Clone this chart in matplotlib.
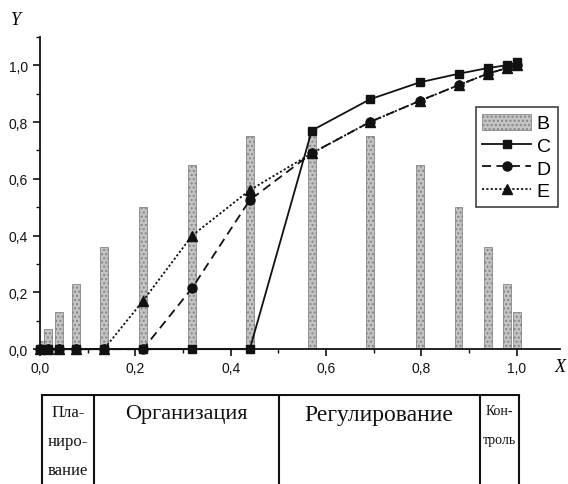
import matplotlib
matplotlib.use("Agg")
import matplotlib.pyplot as plt
from matplotlib.ticker import MultipleLocator, FuncFormatter

# ---- data ----
x_pts = [0.0, 0.017, 0.04, 0.075, 0.134, 0.216, 0.319, 0.44, 0.57, 0.692, 0.797, 0.878, 0.939, 0.979, 1.0]
B_vals = [0.03, 0.07, 0.13, 0.23, 0.36, 0.50, 0.65, 0.75, 0.78, 0.75, 0.65, 0.50, 0.36, 0.23, 0.13]
C_vals = [0, 0, 0, 0, 0, 0, 0, 0, 0.77, 0.88, 0.94, 0.97, 0.99, 1.0, 1.01]
D_vals = [0, 0, 0, 0, 0, 0, 0.215, 0.525, 0.69, 0.80, 0.875, 0.93, 0.97, 0.99, 1.0]
E_vals = [0, 0, 0, 0, 0, 0.17, 0.40, 0.56, 0.69, 0.80, 0.875, 0.93, 0.97, 0.99, 1.0]

stage_names = ["Пла-\nниро-\nвание", "Организация", "Регулирование", "Кон-\nтроль"]
stage_bounds = [0.004, 0.113, 0.501, 0.922, 1.004]

fig = plt.figure(figsize=(5.68, 4.85), dpi=100)
ax = fig.add_axes([0.0704, 0.278, 0.915, 0.644])

hb = ax.bar(x_pts, B_vals, width=0.016, facecolor="#c4c4c4", edgecolor="#858585",
            linewidth=0.6, hatch="....", label="B", zorder=2)
hc, = ax.plot(x_pts, C_vals, "-", color="#111111", lw=1.3, marker="s", ms=6, label="C",
              zorder=5, clip_on=False)
hd, = ax.plot(x_pts, D_vals, color="#111111", lw=1.3, ls=(0, (5, 3)), marker="o", ms=6.5,
              label="D", zorder=4, clip_on=False)
he, = ax.plot(x_pts, E_vals, color="#111111", lw=1.3, ls=(0, (1.2, 1.2)), marker="^", ms=7,
              label="E", zorder=3, clip_on=False)

ax.set_xlim(0, 1.09)
ax.set_ylim(0, 1.1)
for s in ["top", "right"]:
    ax.spines[s].set_visible(False)
for s in ["left", "bottom"]:
    ax.spines[s].set_linewidth(1.3)
    ax.spines[s].set_color("#111111")

ax.xaxis.set_major_locator(MultipleLocator(0.2))
ax.xaxis.set_minor_locator(MultipleLocator(0.1))
ax.yaxis.set_major_locator(MultipleLocator(0.2))
ax.yaxis.set_minor_locator(MultipleLocator(0.1))
fmt = FuncFormatter(lambda v, p: ("%.1f" % v).replace(".", ",") if v <= 1.0001 else "")
ax.xaxis.set_major_formatter(fmt)
ax.yaxis.set_major_formatter(fmt)
ax.tick_params(which="major", direction="out", length=5, width=1.2, labelsize=10, colors="#111111")
ax.tick_params(which="minor", direction="out", length=3, width=1.0, colors="#111111")
for lab in ax.get_xticklabels() + ax.get_yticklabels():
    lab.set_family("Liberation Sans")

ax.text(-0.05, 1.16, "Y", transform=ax.transData, fontsize=13, style="italic",
        family="Liberation Serif", ha="center", va="center", clip_on=False)
ax.text(1.09, -0.06, "X", transform=ax.transData, fontsize=13, style="italic",
        family="Liberation Serif", ha="center", va="center", clip_on=False)

leg = ax.legend([hb, hc, hd, he], ["B", "C", "D", "E"],
                loc="upper left", bbox_to_anchor=(0.838, 0.776), frameon=True, fancybox=False,
                edgecolor="#111111", prop={"family": "Liberation Sans", "size": 14},
                handlelength=2.5, handleheight=0.9, handletextpad=0.3, borderpad=0.35,
                labelspacing=0.2, borderaxespad=0)
leg.get_frame().set_linewidth(1.2)

# ---- stage table ----
tax = fig.add_axes([0.0704, 0.0, 0.915, 0.1856])
tax.set_xlim(0, 1.09)
tax.set_ylim(0, 1)
tax.axis("off")
tax.plot([stage_bounds[0], stage_bounds[-1]], [0.985, 0.985], color="#111111", lw=1.5)
for b in stage_bounds:
    tax.plot([b, b], [0, 0.985], color="#111111", lw=1.5)
for i, name in enumerate(stage_names):
    cx = (stage_bounds[i] + stage_bounds[i + 1]) / 2
    fs = [12, 16, 17, 10][i]
    ls = 2.6 if i == 3 else 2.1
    tax.text(cx, 0.89, name, ha="center", va="top", fontsize=fs,
             family="Liberation Serif", color="#111111", linespacing=ls)

fig.savefig("out.png", dpi=100)
